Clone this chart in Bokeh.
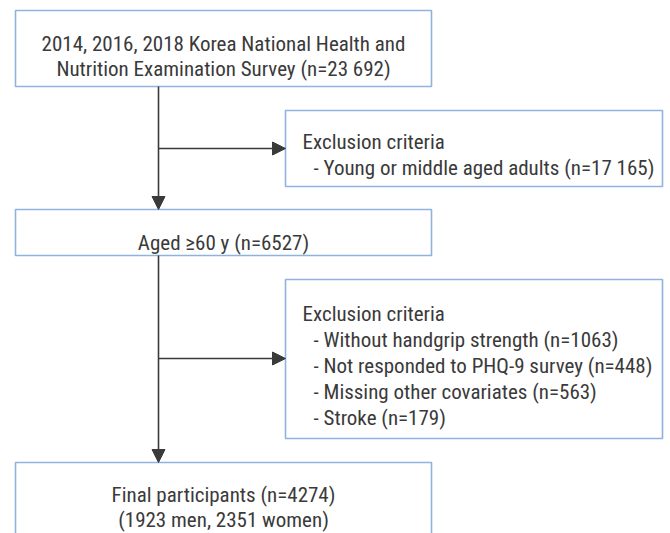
from bokeh.plotting import figure
from bokeh.models import Range1d, Arrow, NormalHead
from bokeh.core.properties import value
from bokeh.embed import file_html
from bokeh.resources import INLINE

# ---------------- data ----------------
survey_years = [2014, 2016, 2018]
n_total = 23692
n_young_middle = 17165
n_aged = 6527
exclusion_labels = ["Without handgrip strength", "Not responded to PHQ-9 survey",
                    "Missing other covariates", "Stroke"]
exclusion_counts = [1063, 448, 563, 179]
n_final = 4274
n_men = 1923
n_women = 2351


def fmt(n):
    return f"{n:,}".replace(",", " ") if n >= 10000 else str(n)


def nlab(n):
    return f"(n={fmt(n)})"


# ---------------- layout (page pixel coords) ----------------
W, H = 670, 533
FONT = value("Liberation Sans Narrow, Roboto Condensed, Arial Narrow, Roboto")
FS = "21px"
TXT = "#3a3a3a"
LINE = "#3a3a3a"
BOX = "#8fb3de"

p = figure(width=W, height=H, output_backend="svg", toolbar_location=None,
           x_range=Range1d(0, W), y_range=Range1d(H, 0),
           min_border=0, outline_line_color=None)
p.axis.visible = False
p.grid.visible = False
p.background_fill_color = "white"
p.border_fill_color = "white"

# boxes: left, right, top, bottom
main_l, main_r = 15, 431
side_l, side_r = 285, 662
boxes = [
    (main_l, main_r, 10, 86),
    (side_l, side_r, 110, 186),
    (main_l, main_r, 209, 255),
    (side_l, side_r, 279, 438),
    (main_l, main_r, 462, 560),
]
p.quad(left=[b[0] for b in boxes], right=[b[1] for b in boxes],
       top=[b[2] for b in boxes], bottom=[b[3] for b in boxes],
       fill_color="white", line_color=BOX, line_width=1.6)

# connectors
spine_x = 158
branch1_y = 148
branch2_y = 358
for (xs, ys, xe, ye) in [(spine_x, 86, spine_x, 209), (spine_x, 255, spine_x, 462),
                         (spine_x, branch1_y, side_l, branch1_y),
                         (spine_x, branch2_y, side_l, branch2_y)]:
    p.add_layout(Arrow(end=NormalHead(size=13, fill_color=LINE, line_color=LINE, line_width=1),
                       x_start=xs, y_start=ys, x_end=xe, y_end=ye,
                       line_color=LINE, line_width=1.6))

# texts
cx = (main_l + main_r) / 2
years = ", ".join(str(y) for y in survey_years)
center_texts = [
    f"{years} Korea National Health and",
    f"Nutrition Examination Survey {nlab(n_total)}",
    f"Aged \u226560 y {nlab(n_aged)}",
    f"Final participants {nlab(n_final)}",
    f"({n_men} men, {n_women} women)",
]
center_y = [43, 68, 242, 494, 519]
p.text(x=[cx] * len(center_texts), y=center_y, text=center_texts,
       text_font=FONT, text_font_size=FS, text_color=TXT,
       text_align="center", text_baseline="alphabetic")

left_texts = ["Exclusion criteria", f"- Young or middle aged adults {nlab(n_young_middle)}",
              "Exclusion criteria"] + \
             [f"- {lab} {nlab(c)}" for lab, c in zip(exclusion_labels, exclusion_counts)]
left_x = [302, 313, 302, 313, 313, 313, 313]
left_y = [141, 167, 313, 339, 365, 391, 417]
p.text(x=left_x, y=left_y, text=left_texts,
       text_font=FONT, text_font_size=FS, text_color=TXT,
       text_align="left", text_baseline="alphabetic")

open("out.html", "w").write(file_html(p, INLINE))
